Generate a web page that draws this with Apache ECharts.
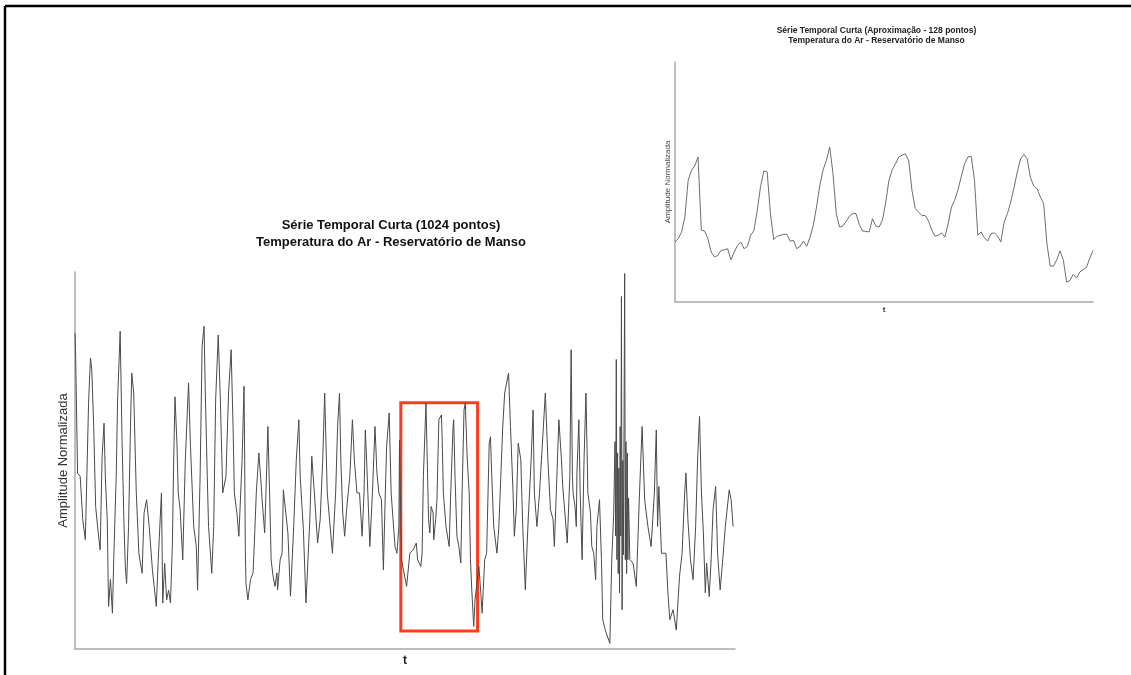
<!DOCTYPE html>
<html>
<head>
<meta charset="utf-8">
<title>Temperatura do Ar - Reservatório de Manso</title>
<script src="https://cdn.jsdelivr.net/npm/echarts@6/dist/echarts.min.js"></script>
<style>
  html, body { margin: 0; padding: 0; background: #ffffff; }
  #chart { width: 1131px; height: 675px; }
</style>
</head>
<body>
<div id="chart"></div>
<script>
// Short series (1024 samples): sample index and normalised amplitude (0-100)
const mainT = [
  0,1,4,8,12,16,19,21,24,26,29,32,36,39,42,45,47,50,52,55,58,60,64,66,70,73,76,78,80,83,86,88,91,95,99,
  104,107,111,115,120,126,129,134,136,139,142,145,148,151,153,155,158,160,163,167,171,176,179,184,188,190,194,197,
  200,202,205,207,212,215,218,222,225,229,234,238,242,245,247,251,254,259,262,263,264,265,268,272,276,278,281,285,288,
  290,294,296,299,302,304,307,310,313,314,318,321,323,326,330,334,339,343,347,349,354,358,364,367,371,376,380,384,387,
  391,399,404,407,410,412,415,418,421,426,430,433,437,441,445,448,450,452,457,461,465,468,471,475,478,481,483,487,
  490,493,496,499,502,503,506,511,514,519,524,529,531,536,538,540,544,546,548,550,552,555,556,559,561,564,568,569,
  571,575,580,582,586,587,589,592,595,598,600,603,605,608,611,613,615,618,620,626,629,631,635,638,642,644,646,649,
  654,657,660,663,666,672,675,679,681,684,687,691,694,698,702,707,710,712,716,720,726,729,733,737,741,743,746,750,
  754,756,763,767,769,771,772,775,777,778,781,783,786,789,792,795,799,801,804,807,809,813,816,818,822,829,832,835,
  837,838,839,840,841,842,843,844,845,846,847,848,849,850,851,852,853,854,855,856,857,858,860,865,870,875,879,883,
  888,893,898,901,903,905,909,916,919,922,927,
  932,937,941,945,947,950,954,958,962,965,968,971,974,977,979,983,986,989,993,996,1000,1004,1008,1014,1017,1020
];
const mainAmp = [
  83.8,77.6,46.6,45.8,34.3,29.0,50.2,65.3,77.2,74.1,59.0,37.8,30.8,26.3,51.0,59.9,45.8,34.3,11.3,18.4,9.5,23.6,46.6,66.0,84.3,54.6,32.5,21.8,17.4,32.5,59.0,73.2,67.9,41.4,25.4,
  20.1,36.0,39.6,32.5,21.0,11.3,23.6,41.4,12.2,22.7,13.0,15.6,12.2,28.1,50.2,66.9,54.6,41.4,36.9,23.6,50.2,70.6,53.8,32.5,27.2,15.6,46.6,80.3,
  85.6,67.9,45.8,32.5,20.1,32.5,66.0,83.3,67.9,41.4,45.8,67.9,79.4,59.0,41.4,36.0,29.9,50.2,69.7,50.2,26.3,17.4,13.0,18.4,20.2,28.1,41.4,52.0,44.9,
  39.6,30.8,41.4,59.0,38.7,23.7,19.3,16.6,20.2,15.7,23.7,25.4,42.2,42.7,30.8,14.0,32.5,50.2,60.8,45.8,31.7,12.2,34.3,51.1,41.4,28.1,34.3,50.2,67.9,
  41.4,25.4,41.4,59.0,67.9,50.2,36.1,29.9,37.0,45.8,60.8,50.2,41.4,41.4,29.9,41.4,58.1,50.2,27.2,41.4,59.0,46.7,41.4,39.6,21.0,41.4,53.8,62.6,
  41.4,34.3,27.2,25.4,32.5,55.4,23.7,19.3,16.6,25.4,26.3,28.1,23.7,21.9,25.4,45.8,65.2,50.2,34.3,30.8,37.8,36.1,29.0,34.3,39.6,60.8,62.1,56.3,
  41.4,32.5,27.2,39.6,59.0,60.8,45.8,29.9,27.2,22.8,41.4,63.4,65.2,50.2,41.4,23.7,15.7,6.0,13.0,21.9,14.9,9.5,23.7,25.4,54.6,56.3,45.8,32.5,
  25.4,32.5,45.8,59.0,67.9,73.2,59.0,41.4,29.9,37.0,54.6,50.2,32.5,15.7,32.5,50.2,63.4,41.4,32.5,41.4,59.0,67.9,50.2,36.9,34.3,27.2,41.4,60.8,
  50.2,43.2,28.1,45.8,79.4,45.8,41.4,37.8,32.5,46.7,60.8,41.4,23.7,50.2,67.9,41.4,36.1,27.2,25.4,18.4,32.5,39.6,23.7,7.8,5.0,1.5,23.7,36.1,
  55.0,30.0,76.8,23.7,52.0,20.0,48.0,14.9,59.0,30.0,93.5,10.4,50.0,25.0,60.0,99.6,23.7,55.0,20.0,52.0,23.7,40.0,23.7,22.8,16.6,41.4,59.0,39.6,
  32.5,27.2,41.4,58.1,32.5,43.1,25.4,25.4,14.9,7.8,10.4,
  5.0,19.3,25.4,41.4,46.7,34.3,23.7,18.4,32.5,50.2,61.7,41.4,30.8,14.9,22.8,13.9,23.7,37.0,43.1,25.4,15.7,23.7,32.5,42.2,39.6,32.5
];

// Approximation with 128 samples (normalised amplitude, 0-100)
const approxAmp = [
  25.0,26.4,29.2,35.4,50.7,54.9,56.7,60.4,29.9,29.6,26.4,20.8,18.8,19.4,21.5,21.8,
  22.2,17.6,20.8,23.6,25.0,22.2,23.2,27.8,29.9,38.2,48.2,54.6,54.2,36.8,26.0,27.4,
  27.8,28.2,28.2,25.3,25.7,22.2,23.2,25.4,23.2,26.8,31.9,39.6,48.6,55.1,59.0,64.6,
  53.5,36.8,31.2,31.7,33.6,35.8,36.8,36.8,32.2,29.6,29.4,29.2,34.7,31.7,31.2,34.0,
  41.2,50.7,55.1,57.6,60.4,61.2,61.7,59.0,46.5,38.9,37.5,36.0,36.1,33.8,30.1,27.4,
  27.8,28.8,27.1,32.6,39.6,42.4,46.9,52.4,57.6,60.4,60.7,50.7,27.8,29.2,26.8,25.4,
  28.5,28.8,27.5,25.0,33.3,36.8,41.7,47.6,54.2,59.6,61.5,59.7,51.8,48.3,47.2,43.8,
  41.0,24.3,15.0,14.9,17.6,21.3,17.4,8.3,9.0,11.5,10.0,12.5,13.5,14.4,18.1,21.5
];

// Highlighted window of the long series (sample range and amplitude range)
const windowT = [505, 624];
const windowAmp = [4.8, 65.3];

const mainTitle = ['Série Temporal Curta (1024 pontos)', 'Temperatura do Ar - Reservatório de Manso'];
const insetTitle = ['Série Temporal Curta (Aproximação - 128 pontos)', 'Temperatura do Ar - Reservatório de Manso'];
const yName = 'Amplitude Normalizada';
const xName = 't';

const FONT = '"Liberation Sans", Arial, sans-serif';
const axisGrey = '#a8a8a8';

function plainAxis(extra) {
  return Object.assign({
    type: 'value',
    axisLine: { show: true, onZero: false, lineStyle: { color: axisGrey, width: 1.5 } },
    axisTick: { show: false },
    axisLabel: { show: false },
    splitLine: { show: false },
    nameLocation: 'middle'
  }, extra);
}

const chart = echarts.init(document.getElementById('chart'), null, { renderer: 'canvas' });

chart.setOption({
  backgroundColor: '#ffffff',
  animation: false,
  grid: [
    { left: 75, top: 272, width: 660, height: 377 },
    { left: 675, top: 62, width: 418, height: 240 }
  ],
  xAxis: [
    plainAxis({ gridIndex: 0, min: 0, max: 1023, name: xName, nameGap: 6,
      nameTextStyle: { fontFamily: FONT, fontSize: 12, fontWeight: 'bold', color: '#222' } }),
    plainAxis({ gridIndex: 1, min: 0, max: 127, name: xName, nameGap: 4,
      nameTextStyle: { fontFamily: FONT, fontSize: 8, fontWeight: 'bold', color: '#333' } })
  ],
  yAxis: [
    plainAxis({ gridIndex: 0, min: 0, max: 100, name: yName, nameGap: 5, nameRotate: 90,
      nameTextStyle: { fontFamily: FONT, fontSize: 13, color: '#333' } }),
    plainAxis({ gridIndex: 1, min: 0, max: 100, name: yName, nameGap: 3, nameRotate: 90,
      nameTextStyle: { fontFamily: FONT, fontSize: 8, color: '#444' } })
  ],
  series: [
    {
      type: 'line',
      xAxisIndex: 0, yAxisIndex: 0,
      data: mainT.map((t, i) => [t, mainAmp[i]]),
      showSymbol: false,
      lineStyle: { color: '#4a4a4a', width: 1 },
      silent: true,
      markArea: {
        silent: true,
        itemStyle: { color: 'rgba(0,0,0,0)', borderColor: '#fb3d1d', borderWidth: 3 },
        data: [[{ coord: [windowT[0], windowAmp[1]] }, { coord: [windowT[1], windowAmp[0]] }]]
      }
    },
    {
      type: 'line',
      xAxisIndex: 1, yAxisIndex: 1,
      data: approxAmp.map((v, i) => [i, v]),
      showSymbol: false,
      lineStyle: { color: '#6e6e6e', width: 1 },
      silent: true
    }
  ],
  graphic: [
    // page frame (top and left rules)
    { type: 'line', shape: { x1: 5, y1: 6, x2: 1131, y2: 6 }, style: { stroke: '#000', lineWidth: 2.5 } },
    { type: 'line', shape: { x1: 5, y1: 6, x2: 5, y2: 675 }, style: { stroke: '#000', lineWidth: 2.5 } },
    // main titles
    { type: 'text', x: 391, y: 225, style: { text: mainTitle[0], font: 'bold 13px ' + FONT, fill: '#111', textAlign: 'center', textVerticalAlign: 'middle' } },
    { type: 'text', x: 391, y: 242, style: { text: mainTitle[1], font: 'bold 13px ' + FONT, fill: '#111', textAlign: 'center', textVerticalAlign: 'middle' } },
    // inset titles
    { type: 'text', x: 876.5, y: 31, style: { text: insetTitle[0], font: 'bold 8.5px ' + FONT, fill: '#222', textAlign: 'center', textVerticalAlign: 'middle' } },
    { type: 'text', x: 876.5, y: 41, style: { text: insetTitle[1], font: 'bold 8.5px ' + FONT, fill: '#222', textAlign: 'center', textVerticalAlign: 'middle' } }
  ]
});
</script>
</body>
</html>
